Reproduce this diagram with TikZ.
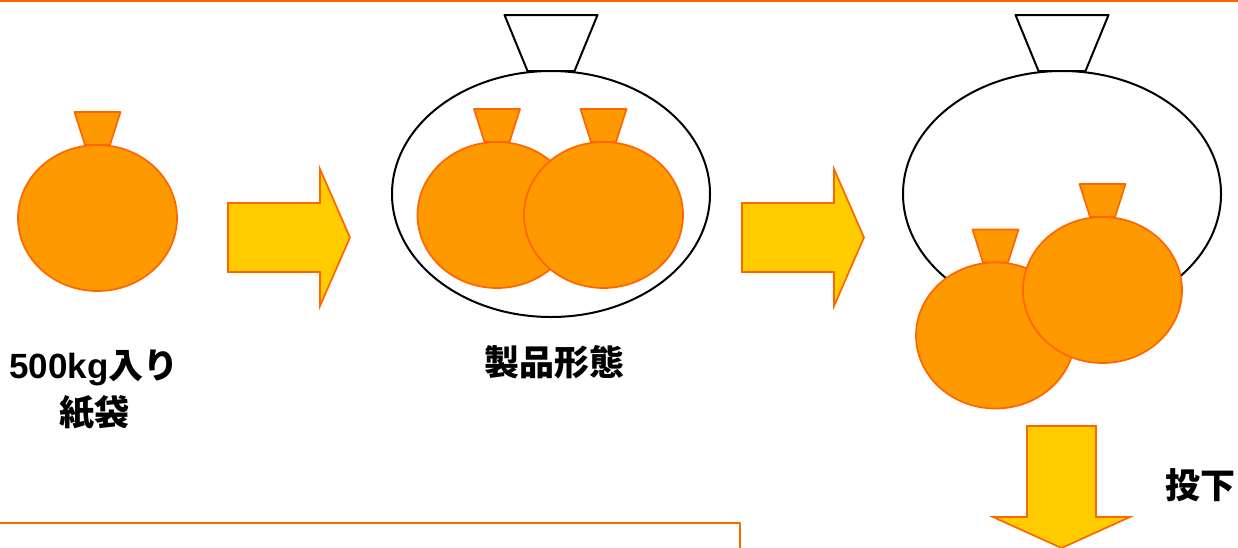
\documentclass[tikz,border=0pt]{standalone}
\usepackage{fontspec}
\setmainfont{Noto Sans CJK JP}
\newfontfamily\latinfont{Liberation Sans}
\usetikzlibrary{positioning}
\definecolor{bagfill}{HTML}{FF9900}
\definecolor{bagline}{HTML}{FF6600}
\definecolor{arrowfill}{HTML}{FFCC00}
% small sack: neck + body, centred on the body
\newcommand{\drawbag}[2]{%
\draw[bag] (#1-23,#2-106)--(#1+23,#2-106)--(#1+12.5,#2-73)--(#1-12.5,#2-73)--cycle;
\draw[bag] (#1,#2) ellipse (79.5 and 73);
}
% big bag with its open neck
\newcommand{\drawbigbag}[2]{%
\draw[bigbag] (#1-46.5,#2-179)--(#1+46.5,#2-179)--(#1+23.5,#2-123)--(#1-23.5,#2-123)--cycle;
\draw[bigbag] (#1,#2) ellipse (159 and 123);
}
\newcommand{\rightflow}[1]{%
\draw[flow] (#1,203)--(#1+92,203)--(#1+92,169)--(#1+122,237.5)--(#1+92,306)--(#1+92,272)--(#1,272)--cycle;
}
\begin{document}
\begin{tikzpicture}[x=1pt,y=-1pt,line join=round,
  bag/.style={fill=bagfill,draw=bagline,line width=1.7pt},
  bigbag/.style={fill=white,draw=black,line width=2pt},
  flow/.style={fill=arrowfill,draw=bagline,line width=1.7pt,line join=miter},
  txt/.style={font=\fontsize{35}{47}\selectfont\bfseries,align=center}]
\useasboundingbox (0,0) rectangle (1238,547);
\draw[bagline,line width=2pt] (-2,1)--(1240,1);
\draw[bagline,line width=2.5pt] (-2,523)--(740,523)--(740,549);
% single sack
\drawbag{97.5}{218}
\node[txt] (kamibukuro) at (94,390) {{\latinfont\bfseries 500kg}入り\\紙袋};
\rightflow{228}
% packed
\drawbigbag{551}{194}
\drawbag{497}{215}
\drawbag{603.5}{215}
\node[txt] (seihin) at (554,362) {製品形態};
\rightflow{742}
% dropped out
\drawbigbag{1062}{194}
\drawbag{995.5}{335.5}
\drawbag{1102.5}{290}
\draw[flow] (1027,426)--(1096,426)--(1096,517)--(1130,517)--(1061.5,548)--(993,517)--(1027,517)--cycle;
\node[txt] (touka) at (1200,485) {投下};
\end{tikzpicture}
\end{document}
